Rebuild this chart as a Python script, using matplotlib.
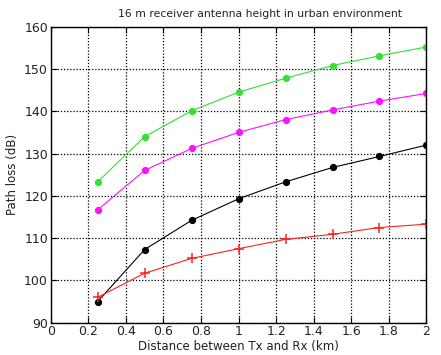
import numpy as np
import matplotlib
matplotlib.use("Agg")
import matplotlib.pyplot as plt

# distance (km) and path loss (dB)
distance = [0.25, 0.5, 0.75, 1.0, 1.25, 1.5, 1.75, 2.0]
loss_green = [123.3, 134.0, 140.1, 144.5, 147.8, 150.8, 153.1, 155.2]
loss_magenta = [116.7, 126.0, 131.2, 135.0, 138.0, 140.3, 142.4, 144.2]
loss_black = [95.0, 107.3, 114.2, 119.3, 123.3, 126.7, 129.3, 132.0]
loss_red = [96.0, 101.7, 105.2, 107.5, 109.7, 110.9, 112.5, 113.3]

xticks = [0, 0.2, 0.4, 0.6, 0.8, 1, 1.2, 1.4, 1.6, 1.8, 2]
xticklabels = ["0", "0.2", "0.4", "0.6", "0.8", "1", "1.2", "1.4", "1.6", "1.8", "2"]
yticks = [90, 100, 110, 120, 130, 140, 150, 160]

plt.rcParams['font.family'] = ['DejaVu Sans']

fig = plt.figure(figsize=(4.41, 3.55), dpi=100)
ax = fig.add_axes([0.115, 0.091, 0.852, 0.834])

ax.plot(distance, loss_green, color="#33e033", linewidth=0.8,
        marker="o", markersize=4.2)
ax.plot(distance, loss_magenta, color="#ff11ff", linewidth=0.8,
        marker="o", markersize=4.2)
ax.plot(distance, loss_black, color="black", linewidth=0.8,
        marker="o", markersize=4.2)
ax.plot(distance, loss_red, color="#ff2020", linewidth=0.8,
        marker="+", markersize=7, markeredgewidth=1.1)

ax.set_xlim(0, 2)
ax.set_ylim(90, 160)
ax.set_xticks(xticks)
ax.set_xticklabels(xticklabels)
ax.set_yticks(yticks)
ax.tick_params(direction="in", length=4, top=True, right=True,
               labelsize=9, pad=2, colors="black", labelcolor="#222222")
ax.grid(True, color="black", linestyle=(0, (1, 1.5)), linewidth=0.9)
for s in ax.spines.values():
    s.set_linewidth(1.0)
    s.set_color("black")

ax.set_xlabel("Distance between Tx and Rx (km)", fontsize=8.5, labelpad=1,
              color="#222222")
ax.set_ylabel("Path loss (dB)", fontsize=8.5, labelpad=4, color="#222222")
ax.set_title("16 m receiver antenna height in urban environment",
             fontsize=7.8, pad=7, x=0.557, color="#222222")

fig.savefig("out.png", dpi=100)
